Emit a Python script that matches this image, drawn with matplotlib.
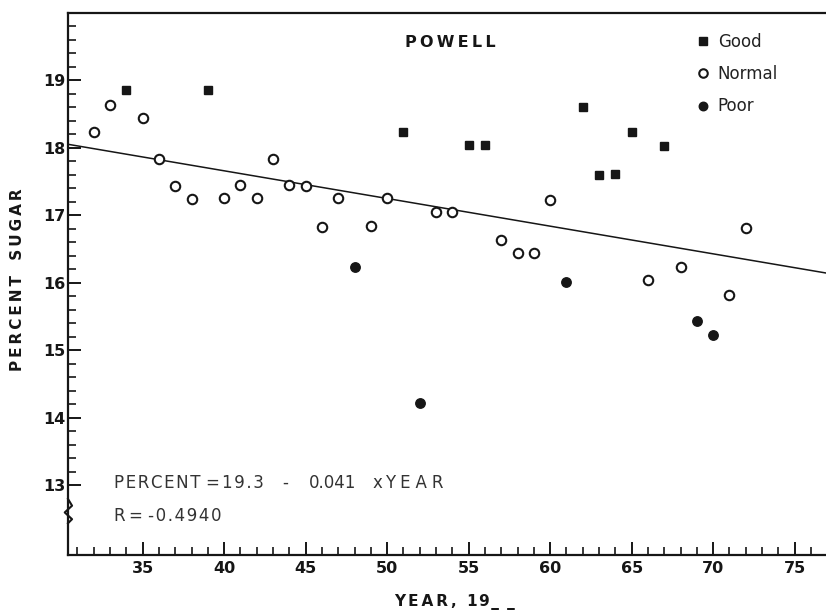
import numpy as np
import matplotlib
matplotlib.use("Agg")
import matplotlib.pyplot as plt
from matplotlib.ticker import FixedLocator

# values (year 19xx, percent sugar)
good_years = [34, 39, 51, 55, 56, 62, 63, 64, 65, 67]
good_sugar = [18.85, 18.85, 18.23, 18.04, 18.04, 18.61, 17.60, 17.62, 18.24, 18.03]

normal_years = [32, 33, 35, 36, 37, 38, 40, 41, 42, 43, 44, 45, 46, 47, 49, 50,
                53, 54, 57, 58, 59, 60, 66, 68, 71, 72]
normal_sugar = [18.24, 18.64, 18.44, 17.84, 17.44, 17.24, 17.25, 17.45, 17.25, 17.83,
                17.45, 17.44, 16.83, 17.25, 16.84, 17.25, 17.05, 17.05, 16.63, 16.44,
                16.44, 17.23, 16.04, 16.24, 15.82, 16.81]

poor_years = [48, 52, 61, 69, 70]
poor_sugar = [16.24, 14.22, 16.02, 15.43, 15.23]

intercept = 19.3
slope = -0.041
r_value = -0.4940

x_ticks = [35, 40, 45, 50, 55, 60, 65, 70, 75]
y_ticks = [13, 14, 15, 16, 17, 18, 19]

ink = "#161616"
plt.rcParams['font.family'] = ['DejaVu Sans']


def sp(s, gap="\u2009"):
    # letter-spaced text like the typeset original
    return gap.join(s)


fig = plt.figure(figsize=(8.26, 6.10), dpi=100)
ax = fig.add_axes([0.0823, 0.0902, 1 - 0.0823, 0.979 - 0.0902])
x0, x1 = 30.42, 76.92
ax.set_xlim(x0, x1)
ax.set_ylim(11.97, 20.0)

# regression line
xl = np.array([x0, x1])
ax.plot(xl, intercept + slope * xl, color=ink, lw=1.1, zorder=2)

ax.plot(good_years, good_sugar, ls='none', marker='s', ms=6.2, mfc=ink, mec=ink,
        label='Good', zorder=3)
ax.plot(normal_years, normal_sugar, ls='none', marker='o', ms=6.8, mfc='white',
        mec=ink, mew=1.5, label='Normal', zorder=3)
ax.plot(poor_years, poor_sugar, ls='none', marker='o', ms=6.8, mfc=ink, mec=ink,
        label='Poor', zorder=3)

leg = ax.legend(loc='upper left', bbox_to_anchor=(0.823, 0.975), frameon=False,
                handlelength=0.6, handletextpad=0.55, labelspacing=0.85,
                borderaxespad=0, fontsize=12, markerscale=0.9)
for t in leg.get_texts():
    t.set_color("#222222")

# spines
for side in ['left', 'bottom', 'top']:
    ax.spines[side].set_linewidth(1.6)
    ax.spines[side].set_color(ink)
ax.spines['right'].set_visible(False)

ax.xaxis.set_major_locator(FixedLocator(x_ticks))
ax.xaxis.set_minor_locator(FixedLocator([y for y in range(31, 77) if y % 5 != 0]))
ax.yaxis.set_major_locator(FixedLocator(y_ticks))
ax.yaxis.set_minor_locator(FixedLocator([v for v in np.round(np.arange(13.2, 20.0, 0.2), 1)
                                         if abs(v - round(v)) > 0.01]))
ax.tick_params(which='major', direction='in', length=9.5, width=1.4, color=ink,
               labelsize=11.5, labelcolor=ink)
ax.tick_params(which='minor', direction='in', length=5.5, width=1.2, color=ink)
ax.tick_params(axis='y', which='major', pad=2)
ax.tick_params(axis='x', which='major', pad=4)
ax.tick_params(top=False, which='both')
for lab in ax.get_xticklabels() + ax.get_yticklabels():
    lab.set_fontweight('bold')

# axis break mark on the y axis
zx = [x0, x0 + 0.25, x0 - 0.2, x0 + 0.25, x0]
zy = [12.80, 12.70, 12.60, 12.50, 12.44]
ax.plot(zx, zy, color=ink, lw=1.5, clip_on=False, zorder=4)

ax.set_ylabel(sp("PERCENT") + "\u2003" + sp("SUGAR"),
              fontsize=11, fontweight='bold', color=ink)
ax.yaxis.set_label_coords(-0.057, 0.507)
ax.set_xlabel(sp("YEAR,") + "  " + sp("19_ _", "\u200a"), fontsize=11,
              fontweight='bold', color=ink)
ax.xaxis.set_label_coords(0.51, -0.072)

ax.text(0.505, 0.945, sp("POWELL"), transform=ax.transAxes,
        ha='center', va='center', fontsize=11.5, fontweight='bold', color=ink)

# regression equation, pieces placed like the original's wide spacing
eq_parts = [("PERCENT", 114, "\u200a"), ("=", 205, ""), ("19.3", 222, "\u200a"),
            ("-", 282, ""), ("0.041", 309, ""), ("x", 373, ""),
            ("YEAR", 385, "\u2009\u200a")]
for s, px, gap in eq_parts:
    ax.text((px - 68) / 758, 0.133, sp(s, gap), transform=ax.transAxes, ha='left',
            va='center', fontsize=12, color="#333333")
ax.text((114 - 68) / 758, 0.072, sp("R=") + " " + sp(f"{r_value:.4f}", "\u200a"),
        transform=ax.transAxes, ha='left', va='center', fontsize=12, color="#333333")

fig.savefig("out.png", dpi=100, facecolor='white')
